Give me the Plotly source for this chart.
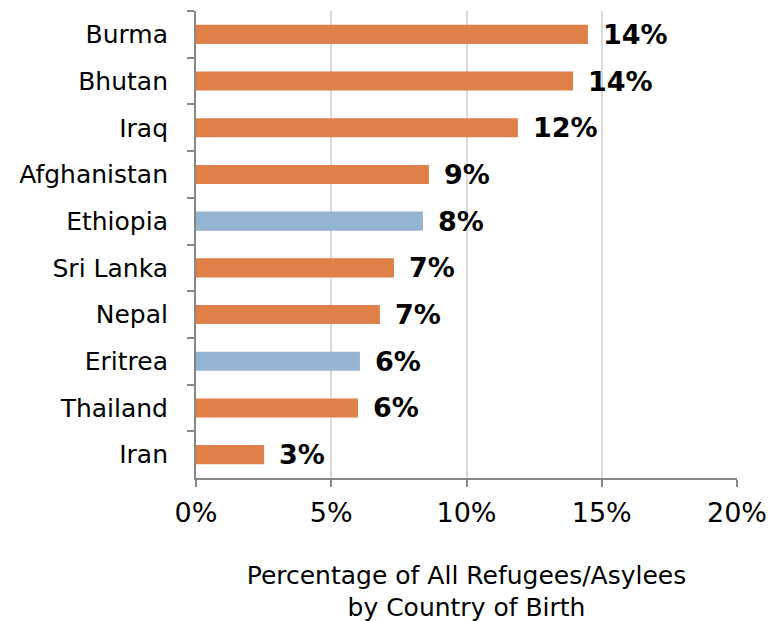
import plotly.graph_objects as go

countries = ["Burma", "Bhutan", "Iraq", "Afghanistan", "Ethiopia",
             "Sri Lanka", "Nepal", "Eritrea", "Thailand", "Iran"]
shares = [14.49, 13.94, 11.9, 8.61, 8.39, 7.32, 6.80, 6.06, 5.99, 2.52]
region = ["Asia", "Asia", "Asia", "Asia", "Africa",
          "Asia", "Asia", "Africa", "Asia", "Asia"]
x_ticks = [0, 5, 10, 15, 20]
x_ticklabels = ["0%", "5%", "10%", "15%", "20%"]

ORANGE = "#DF8049"
BLUE = "#95B4D1"
FONT = "DejaVu Sans"

colors = [BLUE if r == "Africa" else ORANGE for r in region]

fig = go.Figure()
fig.add_trace(go.Bar(
    x=shares,
    y=countries,
    orientation="h",
    marker=dict(color=colors, line=dict(width=0)),
    hoverinfo="skip",
))

# etiquetas de valor a la derecha de cada barra
for c, v in zip(countries, shares):
    fig.add_annotation(
        x=v, y=c, text=f"<b>{v:.0f}%</b>",
        xanchor="left", yanchor="middle", xshift=13, showarrow=False,
        font=dict(family=FONT, size=27, color="black"),
    )

# la página html añade 8px de margen al body: se compensa aquí
fig.update_layout(
    width=776, height=621,
    margin=dict(l=188, r=47, t=3, b=151, autoexpand=False),
    plot_bgcolor="white", paper_bgcolor="white",
    showlegend=False,
    bargap=0.59,
    font=dict(family=FONT, size=23, color="black"),
    xaxis=dict(
        range=[0, 20],
        tickvals=x_ticks, ticktext=x_ticklabels,
        showgrid=True, gridcolor="#D9D9D9", gridwidth=2,
        zeroline=False,
        showline=True, linecolor="#878787", linewidth=2,
        ticks="outside", ticklen=7, tickcolor="#878787", tickwidth=2,
        ticklabelstandoff=3,
        tickfont=dict(family=FONT, size=27),
        title=dict(text="Percentage of All Refugees/Asylees<br>by Country of Birth",
                   font=dict(family=FONT, size=25), standoff=39),
        fixedrange=True,
    ),
    yaxis=dict(
        autorange="reversed",
        showline=True, linecolor="#878787", linewidth=2,
        ticks="outside", ticklen=7, tickcolor="#878787", tickwidth=2,
        tickson="boundaries",
        showgrid=False,
        tickfont=dict(family=FONT, size=25),
        ticklabelstandoff=21,
    ),
)

fig.write_html("out.html")
